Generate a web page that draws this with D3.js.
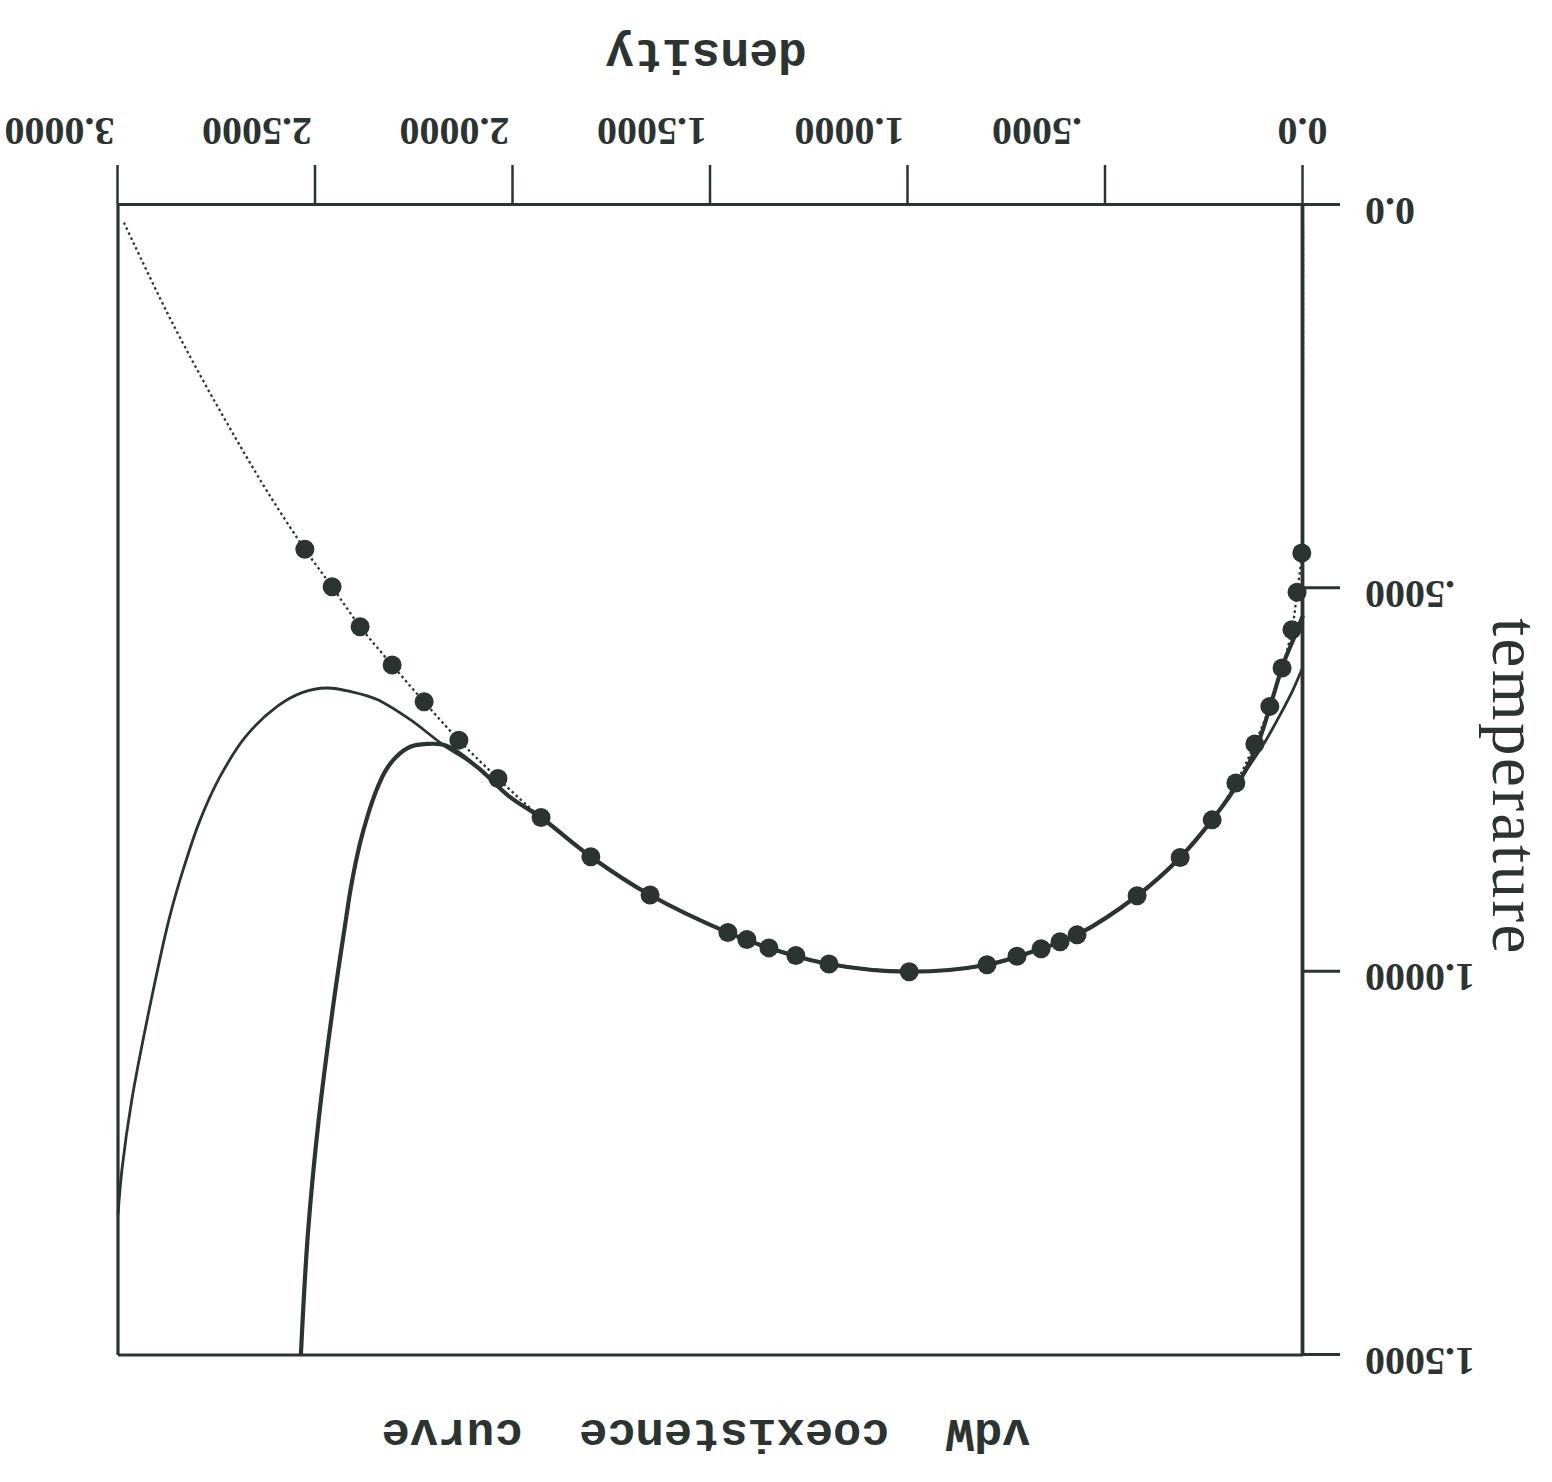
<!DOCTYPE html>
<html>
<head>
<meta charset="utf-8">
<script src="https://cdn.jsdelivr.net/npm/d3@7"></script>
<style>
  html, body { margin: 0; padding: 0; background: #fff; }
  svg { display: block; }
</style>
</head>
<body>
<div class="container"></div>
<script>
// simulation points, liquid branch (density, temperature)
var liquidDensity = [2.527, 2.458, 2.387, 2.306, 2.225, 2.137, 2.038, 1.929, 1.803, 1.653, 1.456, 1.408, 1.352, 1.284, 1.200, 0.997];
var liquidTemp    = [0.449, 0.498, 0.550, 0.600, 0.648, 0.698, 0.748, 0.799, 0.850, 0.900, 0.949, 0.958, 0.969, 0.979, 0.990, 1.000];
// gas branch
var gasDensity = [0.800, 0.724, 0.663, 0.615, 0.572, 0.420, 0.311, 0.230, 0.170, 0.122, 0.084, 0.053, 0.028, 0.015, 0.003];
var gasTemp    = [0.991, 0.980, 0.970, 0.961, 0.952, 0.901, 0.851, 0.802, 0.754, 0.703, 0.654, 0.604, 0.554, 0.505, 0.454];

// dotted extensions of the point set
var dottedLow  = [[2.985, 0.023], [2.876, 0.140], [2.792, 0.222], [2.709, 0.298], [2.623, 0.373]];
var dottedHigh = [[0.002, 0.40], [0.001, 0.34], [0.0, 0.20], [0.0, 0.03]];

// vdW curves, thin (outer) and thick (inner)
var outerCurve = [
    [0.0, 0.602], [0.025, 0.632], [0.058, 0.665], [0.096, 0.700], [0.134, 0.730], [0.177, 0.763],
    [0.230, 0.802], [0.311, 0.851], [0.420, 0.901], [0.572, 0.952], [0.663, 0.970], [0.800, 0.991],
    [1.0, 1.0], [1.200, 0.990], [1.352, 0.969], [1.456, 0.949], [1.653, 0.900], [1.803, 0.850],
    [1.929, 0.799], [2.008, 0.772], [2.091, 0.733], [2.177, 0.704], [2.261, 0.671], [2.344, 0.645],
    [2.408, 0.635], [2.471, 0.630], [2.534, 0.636], [2.597, 0.654], [2.678, 0.694], [2.742, 0.746],
    [2.792, 0.802], [2.835, 0.867], [2.871, 0.932], [2.916, 1.037], [2.965, 1.167], [2.990, 1.258],
    [3.0, 1.317]
];
var innerCurve = [
    [0.0, 0.535], [0.020, 0.561], [0.051, 0.600], [0.078, 0.645], [0.111, 0.698], [0.159, 0.750],
    [0.230, 0.802], [0.311, 0.851], [0.420, 0.901], [0.572, 0.952], [0.663, 0.970], [0.800, 0.991],
    [1.0, 1.0], [1.200, 0.990], [1.352, 0.969], [1.456, 0.949], [1.653, 0.900], [1.803, 0.850],
    [1.929, 0.799], [2.008, 0.772], [2.091, 0.733], [2.170, 0.705], [2.218, 0.703], [2.261, 0.707],
    [2.296, 0.720], [2.324, 0.739], [2.347, 0.765], [2.367, 0.795], [2.387, 0.832], [2.410, 0.889],
    [2.423, 0.932], [2.453, 1.036], [2.491, 1.189], [2.519, 1.340], [2.537, 1.500]
];

var densityTicks = [0, 0.5, 1.0, 1.5, 2.0, 2.5, 3.0];
var tempTicks = [0, 0.5, 1.0, 1.5];

var W = 1552, H = 1482;
var INK = "#2b3430";

var svg = d3.select(".container")
    .append("svg")
    .attr("width", W)
    .attr("height", H);

// whole figure is upside down in the scan
var g = svg.append("g")
    .attr("transform", `rotate(180, ${W / 2}, ${H / 2})`);

var x = d3.scaleLinear().domain([0, 3]).range([249, 1434]);
var y = d3.scaleLinear().domain([0, 1.5]).range([1277, 127]);

var fmt = d => d === 0 ? "0.0" : d3.format(".4f")(d).replace(/^0/, "");

var line = d3.line()
    .x(d => x(d[0]))
    .y(d => y(d[1]))
    .curve(d3.curveCatmullRom.alpha(0.5));

var liquid = liquidDensity.map((d, i) => [d, liquidTemp[i]]);
var gas = gasDensity.map((d, i) => [d, gasTemp[i]]);

// dotted line through the points
g.append("path")
    .datum(dottedLow.concat(liquid, gas, dottedHigh))
    .attr("fill", "none")
    .attr("stroke", INK)
    .attr("stroke-width", 2.3)
    .attr("stroke-dasharray", "2.5,3")
    .attr("d", line);

g.append("path")
    .datum(outerCurve)
    .attr("fill", "none")
    .attr("stroke", INK)
    .attr("stroke-width", 2.8)
    .attr("d", line);

g.append("path")
    .datum(innerCurve)
    .attr("fill", "none")
    .attr("stroke", INK)
    .attr("stroke-width", 4.2)
    .attr("d", line);

g.selectAll("circle.pt")
    .data(liquid.concat(gas))
    .enter()
    .append("circle")
    .attr("class", "pt")
    .attr("cx", d => x(d[0]))
    .attr("cy", d => y(d[1]))
    .attr("r", 9.5)
    .attr("fill", INK);

// frame (top and right)
g.append("line")
    .attr("x1", x(0)).attr("x2", x(3))
    .attr("y1", y(1.5)).attr("y2", y(1.5))
    .attr("stroke", INK).attr("stroke-width", 3.2);
g.append("line")
    .attr("x1", x(3)).attr("x2", x(3))
    .attr("y1", y(0)).attr("y2", y(1.5))
    .attr("stroke", INK).attr("stroke-width", 3.2);

// density axis
var xAxis = g.append("g")
    .attr("transform", `translate(0, ${y(0)})`)
    .call(d3.axisBottom(x).tickValues(densityTicks).tickSizeInner(40).tickSizeOuter(0).tickFormat(fmt));

xAxis.select(".domain").attr("stroke", INK).attr("stroke-width", 3.2);
xAxis.selectAll(".tick line").attr("stroke", INK).attr("stroke-width", 2.5);
xAxis.selectAll(".tick text")
    .attr("fill", INK)
    .attr("y", 87)
    .attr("dy", 0)
    .attr("x", d => d === 0 ? 0 : 113)
    .attr("text-anchor", d => d === 0 ? "middle" : "end")
    .style("font-family", "'Liberation Serif', serif")
    .style("font-weight", "bold")
    .style("font-size", "40px");

// temperature axis
var yAxis = g.append("g")
    .attr("transform", `translate(${x(0)}, 0)`)
    .call(d3.axisLeft(y).tickValues(tempTicks).tickSizeInner(37).tickSizeOuter(0).tickFormat(fmt));

yAxis.select(".domain").attr("stroke", INK).attr("stroke-width", 3.8);
yAxis.selectAll(".tick line").attr("stroke", INK).attr("stroke-width", 3);
yAxis.selectAll(".tick text")
    .attr("fill", INK)
    .attr("x", -62)
    .attr("dy", 7)
    .attr("text-anchor", "end")
    .style("font-family", "'Liberation Serif', serif")
    .style("font-weight", "bold")
    .style("font-size", "40px");

// labels
g.append("text")
    .attr("x", 846)
    .attr("y", 1442)
    .attr("text-anchor", "middle")
    .attr("fill", INK)
    .style("font-family", "'Liberation Mono', monospace")
    .style("font-weight", "bold")
    .style("font-size", "48px")
    .text("density");

g.append("text")
    .attr("transform", "translate(59, 695) rotate(-90)")
    .attr("text-anchor", "middle")
    .attr("fill", INK)
    .style("font-family", "'Liberation Serif', serif")
    .style("font-size", "65px")
    .style("letter-spacing", "2.5px")
    .text("temperature");

g.append("text")
    .attr("x", 846)
    .attr("y", 62)
    .attr("text-anchor", "middle")
    .attr("fill", INK)
    .attr("xml:space", "preserve")
    .style("white-space", "pre")
    .style("font-family", "'Liberation Mono', monospace")
    .style("font-weight", "bold")
    .style("font-size", "47px")
    .text("vdW  coexistence  curve");
</script>
</body>
</html>
